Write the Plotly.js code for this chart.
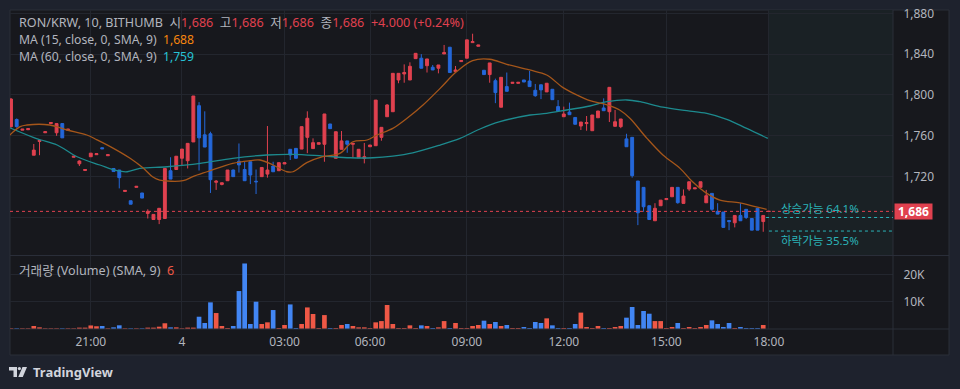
<!DOCTYPE html>
<html>
<head>
<meta charset="utf-8">
<script src="https://cdn.plot.ly/plotly-3.0.1.min.js"></script>
<style>html,body{margin:0;padding:0;background:#1e222d;}#chart{width:960px;height:389px;}</style>
</head>
<body>
<div id="chart"></div>
<script>
// ---- data ----
const tickIdx  = [14, 30, 48, 63, 80, 97, 115, 133];
const tickText = ["21:00", "4", "03:00", "06:00", "09:00", "12:00", "15:00", "18:00"];

const openP = [1769,1776,1765.5,1766,1741,1754.5,1763,1772,1763,1772,
 1765.5,1739,1732.6,1726,1739.5,1741.5,1748.3,1740.5,1728,1726.5,
 1705.5,1696.4,1709.5,1704,1684,1678,1678,1679,1725.8,1727,
 1738,1735.6,1754,1789.5,1761,1762,1714.5,1712.4,1716,1726.5,
 1735,1727,1734.6,1715.5,1720,1722.5,1730.4,1725.8,1732.4,1746.8,
 1747.7,1747,1758.5,1747.5,1751.7,1751.7,1771.6,1738,1746.8,1755,
 1751.7,1738.5,1738,1749.3,1750.3,1758.5,1778.7,1783.6,1814.7,1820.6,
 1814.7,1835.6,1836,1828.7,1827.2,1826.2,1840.2,1846.8,1822.9,1832.7,
 1836,1851.3,1847.7,1824.2,1820,1814,1788,1808.2,1811.4,1811.4,
 1814.7,1813.7,1804.6,1810,1803,1805.6,1788.6,1778.7,1783.3,1778,
 1769.6,1772,1765,1777.7,1787.3,1783.6,1769.3,1769,1757,1758.5,
 1715.7,1709.5,1691.5,1676.8,1691.5,1697.5,1700.3,1709.5,1693.8,1707.8,
 1708,1709.5,1694.4,1703.6,1686,1685.3,1677,1674.8,1682,1688,
 1679,1689,1676,1686];
const highP = [1797,1777,1766.5,1767,1752,1755.5,1764,1773,1772,1772,
 1766.5,1740,1736,1727,1743,1742.5,1748.3,1741.5,1728,1726.5,
 1706.5,1696.4,1710.5,1704,1688,1683,1689,1728,1739,1740,
 1747,1752.6,1799,1793,1784,1764,1716.7,1714,1726.5,1727,
 1752.5,1734.6,1734.6,1727,1729,1769.6,1734.6,1733.7,1733.7,1746.8,
 1747.7,1769,1784,1757.5,1753.3,1781.4,1771.6,1764,1764.7,1755,
 1752.6,1746.8,1753,1751,1795,1768.3,1791,1821.2,1821.2,1830,
 1832,1840.8,1840,1835.3,1829.4,1829.4,1849,1846.8,1828.4,1833.7,
 1854,1860,1849,1824.2,1831.4,1816,1817.3,1822,1812.4,1812.4,
 1814.7,1823.5,1810.8,1810,1811.5,1805.6,1795,1788.6,1792.5,1778,
 1773.5,1779.4,1780.4,1784.3,1796.7,1807.5,1785.3,1776.5,1762,1758.5,
 1715.7,1709.5,1691.5,1694,1697,1698.5,1709.5,1709.5,1707.5,1715,
 1709,1715,1707,1703.6,1694,1685.3,1677,1682,1694,1688,
 1679,1689,1682,1686];
const lowP = [1768,1768,1765.5,1766,1741,1741,1763,1772,1760,1758,
 1765.5,1739,1730.4,1726,1739.5,1741.5,1747.3,1740.5,1725,1708.5,
 1705.5,1693,1709.5,1699,1679,1678,1673.5,1679,1717.6,1727,
 1731,1728,1754,1726,1749,1704,1707,1711.5,1716,1720,
 1724,1716,1712.7,1703,1720,1719,1724.8,1725.8,1732.4,1736.3,
 1738,1747,1743,1747.5,1751.7,1734.6,1767,1738,1746.8,1743.4,
 1738.5,1738.5,1733,1749.3,1750.3,1755.2,1778.7,1783.6,1811.5,1812,
 1814.7,1835.6,1826.2,1822,1824.5,1821.2,1840.2,1822,1822.9,1832.7,
 1836,1851.3,1847.7,1820,1812,1792,1788,1803.6,1811.4,1811.4,
 1812.7,1808.2,1798.3,1796,1803,1795.4,1784.3,1778.7,1780.7,1771.3,
 1765.7,1765,1765,1777.7,1784.6,1773.5,1769.3,1767.5,1749.3,1719,
 1672.5,1685.6,1678,1676.8,1691.5,1697.5,1700.3,1693.5,1693.8,1706,
 1708,1709.5,1694.4,1686.6,1683.3,1670.3,1667.6,1670.3,1676.8,1678.5,
 1667.6,1667.6,1666,1686];
const closeP = [1796,1769,1766.5,1767,1746,1755.5,1764,1773,1772,1758,
 1766.5,1740,1735.3,1727,1743,1742.5,1747.3,1741.5,1725,1719,
 1706.5,1693,1710.5,1699,1686,1683,1689,1728,1717.6,1740,
 1747,1752.6,1799,1758,1749,1717,1715.5,1714,1726.5,1720,
 1731.5,1716,1721.6,1715,1729,1726.5,1724.8,1733.7,1733.7,1741.2,
 1738,1769,1777.2,1753.3,1753.3,1781.4,1767,1764,1755,1751.7,
 1752.6,1746.8,1739.5,1751,1795,1768.3,1790.2,1821.2,1821.2,1822,
 1828.1,1840.8,1826.2,1835.3,1824.5,1829.4,1841.5,1822,1824.5,1833.7,
 1854,1852.3,1849,1820,1831.4,1802.3,1817.3,1803.6,1812.4,1812.4,
 1812.7,1808.2,1799.3,1805,1811.5,1795.4,1784.3,1781.4,1780.7,1771.3,
 1773.5,1773,1780.4,1784.3,1784.6,1807.5,1773.8,1776.5,1749.3,1721,
 1684.6,1690.5,1678,1689,1697,1698.5,1709.5,1694.5,1701,1715,
 1709,1715,1701.3,1688,1683.3,1670.3,1676,1682,1676.8,1680,
 1667.6,1667.6,1682,1686];
const volume = [250,250,250,250,1100,600,250,250,250,250,
 250,250,500,500,1300,1000,1100,250,600,1350,
 250,250,250,250,500,500,850,2100,600,600,
 250,500,500,4500,2200,9760,5850,1100,370,1100,
 13900,24000,1830,10000,1830,2440,6950,370,1460,9000,
 370,1830,7900,5500,370,5100,370,370,1460,1830,
 1100,600,600,370,2440,2900,8800,1830,370,370,
 1340,370,1340,1100,370,600,2900,370,2200,370,
 370,1100,1460,3050,1830,2560,1100,1460,370,370,
 720,370,2560,2200,3900,1340,370,370,370,1830,
 6000,720,370,1100,370,370,720,1100,4150,8050,
 1460,6600,5600,2900,2900,370,720,2200,370,720,
 370,720,1460,3170,1830,720,2200,370,720,370,
 370,370,1460,6];

const ma15Idx = [-0.4,1.6,2.8,6.8,9.8,13.3,15.1,17.9,20.9,23.2,24.9,26.1,30.2,31.9,34.4,38.9,41.9,43.7,46,48.4,49.5,51.9,54.7,57.7,60,62.5,64.2,67,69.5,72.3,75.3,78.2,81,84,87,91,94,96.8,99.3,101.6,104.6,106.8,108.6,111.6,114.4,117.4,119.6,122.1,124.4,127.9,130.2,132.6];
const ma15Val = [1759.8,1769,1770.6,1770.6,1765.7,1760.8,1756,1748,1738,1728.4,1719.6,1716.7,1716,1720,1724.8,1733,1735.6,1736.3,1731.4,1724.8,1724.8,1733.7,1739.5,1742.8,1754.2,1755.9,1760.8,1767.3,1777.2,1790.2,1806.5,1822.9,1833.7,1835,1830.1,1824.5,1819.6,1807.5,1800,1794.4,1790.2,1785.3,1777.2,1757.5,1741.2,1728.1,1715,1703.6,1697.1,1694.4,1691.2,1688];
const ma60Idx = [-0.4,3.9,5.3,8.1,11.6,15.6,18.6,20.4,22.6,27.4,33.2,38.9,44.9,49.5,54.7,59.5,63.5,67,70.5,75.3,78.8,82.3,85.8,91.1,94,97.5,101.6,104.6,108.1,110.4,114.4,118.6,122.1,125.6,129.1,132.8];
const ma60Val = [1768.3,1758.5,1755.9,1751,1739.5,1731.4,1725.8,1724.8,1728.1,1729.7,1733,1738,1741.2,1741.8,1740.2,1738.5,1738.5,1740.2,1743.4,1751,1757.5,1766.7,1773.8,1780.4,1782,1785.3,1789.2,1793.4,1795.1,1793.4,1788,1784.6,1782,1776.2,1767.3,1757.5];

const priceTicks = [1680, 1720, 1760, 1800, 1840, 1880];
const priceTickText = ["", "1,720", "1,760", "1,800", "1,840", "1,880"];
const volTicks = [10000, 20000];
const volTickText = ["10K", "20K"];
const lastPrice = 1686;
const upLevel = 1680;     // 상승가능 level
const downLevel = 1666.7; // 하락가능 level

// ---- styles ----
const RED = '#e0414f', BLUE = '#2467d9';
const VRED = '#ef5846', VBLUE = '#4286f4';
const GRAY = '#b2b5be', TEAL = '#2bb3b8';
const FONT = "'Noto Sans', 'Noto Sans CJK KR', sans-serif";

const L = 10, T = 10, W = 883, H = 319; // plot area in px
const px = x => (x - L) / W;
const py = y => (T + H - y) / H;

const idx = openP.map((_, i) => i);
const volColors = idx.map(i => (closeP[i] > openP[i] || (closeP[i] === openP[i] && i > 0 && closeP[i] > closeP[i-1])) ? VRED : VBLUE);

const traces = [
  {type:'bar', x: idx, y: volume, xaxis:'x', yaxis:'y2', marker:{color: volColors, line:{width:0}}, hoverinfo:'skip'},
  {type:'scatter', mode:'lines', x: ma60Idx, y: ma60Val, line:{color:'#1d8a8e', width:1.3, shape:'spline'}, hoverinfo:'skip'},
  {type:'scatter', mode:'lines', x: ma15Idx, y: ma15Val, line:{color:'#a5561a', width:1.3, shape:'spline'}, hoverinfo:'skip'},
  {type:'candlestick', x: idx, open: openP, high: highP, low: lowP, close: closeP,
   increasing:{line:{color:RED, width:1}, fillcolor:RED},
   decreasing:{line:{color:BLUE, width:1}, fillcolor:BLUE},
   whiskerwidth:0, hoverinfo:'skip'}
];

const red = s => `<span style="color:${RED}">${s}</span>`;
const header1 = `RON/KRW, 10, BITHUMB  시${red('1,686')}  고${red('1,686')}  저${red('1,686')}  종${red('1,686')}  ${red('+4.000 (+0.24%)')}`;

const lineC = '#2a2e39';
const layout = {
  width:960, height:389,
  margin:{l:L, r:960-L-W, t:T, b:389-T-H, pad:0},
  paper_bgcolor:'#1e222d', plot_bgcolor:'#17181d',
  font:{family:FONT, color:GRAY, size:12},
  showlegend:false,
  boxgap:0.28,
  bargap:0.18,
  xaxis:{type:'linear', range:[-0.175, 154.77], anchor:'y2',
    tickvals: tickIdx, ticktext: tickText, showgrid:true, gridcolor:'#23262e', gridwidth:1,
    zeroline:false, showline:false, ticks:'outside', ticklen:2, tickcolor:'rgba(0,0,0,0)',
    tickfont:{size:12, color:GRAY}, rangeslider:{visible:false}, fixedrange:true},
  yaxis:{domain:[py(255), 1], range:[1643.25, 1883.25], side:'right', anchor:'x',
    tickvals: priceTicks, ticktext: priceTickText, showgrid:true, gridcolor:'#23262e',
    zeroline:false, showline:false, ticks:'outside', ticklen:7, tickcolor:'rgba(0,0,0,0)',
    tickfont:{size:12, color:GRAY}, fixedrange:true},
  yaxis2:{domain:[0, py(256)], range:[0, 26740], side:'right', anchor:'x',
    tickvals: volTicks, ticktext: volTickText, showgrid:true, gridcolor:'#23262e',
    zeroline:false, showline:false, ticks:'outside', ticklen:7, tickcolor:'rgba(0,0,0,0)',
    tickfont:{size:12, color:GRAY}, fixedrange:true},
  shapes:[
    {type:'rect', xref:'paper', yref:'paper', x0:px(10), x1:px(949), y0:py(355), y1:py(10), fillcolor:'#17181d', line:{width:1, color:lineC}, layer:'below'},
    {type:'rect', xref:'x', yref:'paper', x0:133, x1:154.77, y0:py(255), y1:1, fillcolor:'#1a2125', line:{width:0}, layer:'below'},
    {type:'line', xref:'paper', yref:'paper', x0:1, x1:1, y0:py(355), y1:1, line:{color:lineC, width:1}},
    {type:'line', xref:'paper', yref:'paper', x0:0, x1:px(949), y0:py(255.5), y1:py(255.5), line:{color:lineC, width:1}},
    {type:'line', xref:'paper', yref:'paper', x0:0, x1:px(949), y0:0, y1:0, line:{color:lineC, width:1}},
    {type:'line', xref:'paper', yref:'y', x0:0, x1:1, y0:lastPrice, y1:lastPrice, line:{color:RED, width:1, dash:'dot'}},
    {type:'line', xref:'x', yref:'y', x0:132.5, x1:154.77, y0:upLevel, y1:upLevel, line:{color:TEAL, width:1, dash:'dot'}},
    {type:'line', xref:'x', yref:'y', x0:133, x1:154.77, y0:downLevel, y1:downLevel, line:{color:TEAL, width:1, dash:'dot'}},
    {type:'path', xref:'paper', yref:'paper', path:`M${px(9)},${py(367)} L${px(17)},${py(367)} L${px(17)},${py(377)} L${px(13.5)},${py(377)} L${px(13.5)},${py(370.5)} L${px(9)},${py(370.5)} Z`, fillcolor:'#d1d4dc', line:{width:0}},
    {type:'circle', xref:'paper', yref:'paper', x0:px(17.8), x1:px(21), y0:py(367), y1:py(370.2), fillcolor:'#d1d4dc', line:{width:0}},
    {type:'path', xref:'paper', yref:'paper', path:`M${px(22.5)},${py(367)} L${px(27)},${py(367)} L${px(22.8)},${py(377)} L${px(18.3)},${py(377)} Z`, fillcolor:'#d1d4dc', line:{width:0}}
  ],
  annotations:[
    {xref:'paper', yref:'paper', x:px(17), y:py(22.5), xanchor:'left', yanchor:'middle', showarrow:false, text: header1, font:{size:12.6, color:GRAY}},
    {xref:'paper', yref:'paper', x:px(17), y:py(39.5), xanchor:'left', yanchor:'middle', showarrow:false, text:`MA (15, close, 0, SMA, 9)  <span style="color:#f7860f">1,688</span>`, font:{size:12.2, color:GRAY}},
    {xref:'paper', yref:'paper', x:px(17), y:py(56.5), xanchor:'left', yanchor:'middle', showarrow:false, text:`MA (60, close, 0, SMA, 9)  <span style="color:#26c2d4">1,759</span>`, font:{size:12.2, color:GRAY}},
    {xref:'paper', yref:'paper', x:px(17), y:py(270), xanchor:'left', yanchor:'middle', showarrow:false, text:`거래량 (Volume) (SMA, 9)  <span style="color:${VRED}">6</span>`, font:{size:12.6, color:GRAY}},
    {xref:'paper', yref:'paper', x:px(779), y:py(208.5), xanchor:'left', yanchor:'middle', showarrow:false, text:'상승가능 64.1%', font:{size:11.5, color:TEAL}},
    {xref:'paper', yref:'paper', x:px(779), y:py(240), xanchor:'left', yanchor:'middle', showarrow:false, text:'하락가능 35.5%', font:{size:11.5, color:TEAL}},
    {xref:'paper', yref:'y', x:px(893.5), y:lastPrice, xanchor:'left', yanchor:'middle', showarrow:false, text:'<b>1,686</b>', font:{size:12, color:'#ffffff'}, bgcolor:RED, width:35, height:13, borderpad:1},
    {xref:'paper', yref:'paper', x:px(31), y:py(372), xanchor:'left', yanchor:'middle', showarrow:false, text:'<b>TradingView</b>', font:{size:13, color:'#d1d4dc'}}
  ]
};

Plotly.newPlot('chart', traces, layout, {staticPlot:true, displayModeBar:false});
</script>
</body>
</html>
